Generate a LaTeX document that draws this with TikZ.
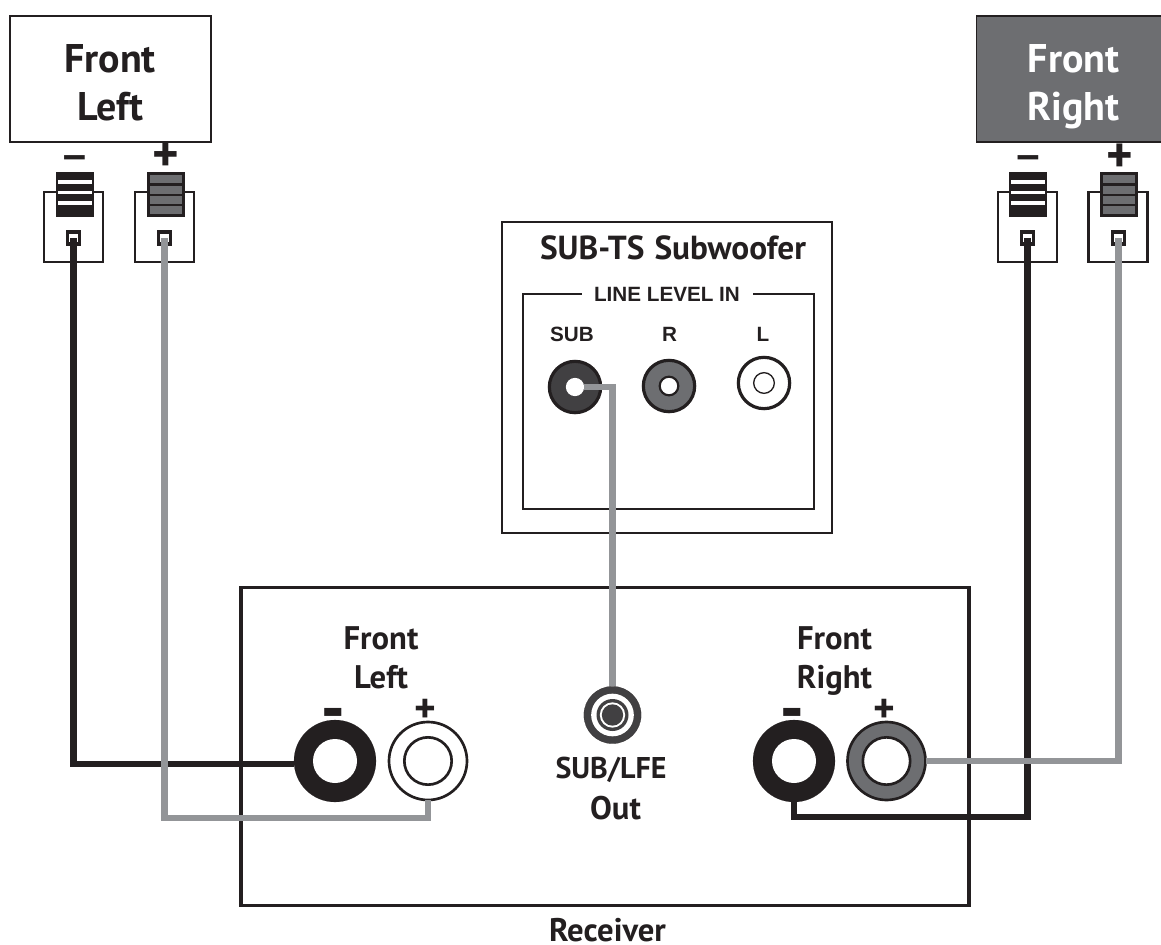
\documentclass[tikz,border=0pt]{standalone}
\usepackage{fontspec}
\setmainfont{PT Sans}
\newfontfamily\arialf{Liberation Sans}
\definecolor{ink}{HTML}{231F20}
\definecolor{midgray}{HTML}{6D6E71}
\definecolor{darkgray}{HTML}{414042}
\definecolor{wiregray}{HTML}{939598}
\tikzset{
  x=.75pt,y=-.75pt,
  boxline/.style={draw=ink,line width=1.5pt,inner sep=0,outer sep=0},
  label/.style={inner sep=0,outer sep=0,text=ink,font=\bfseries\fontsize{24.5pt}{26pt}\selectfont,anchor=base},
  smalllabel/.style={label,font=\bfseries\fontsize{22.5pt}{26pt}\selectfont},
  biglabel/.style={label,font=\bfseries\fontsize{30pt}{32pt}\selectfont},
  ariallabel/.style={inner sep=0,outer sep=0,text=ink,anchor=base,font=\arialf\bfseries\fontsize{15.5pt}{17pt}\selectfont},
  topminus/.style={inner sep=0,outer sep=0,text=ink,font=\bfseries\fontsize{35pt}{35pt}\selectfont,yscale=.8,transform shape},
  topplus/.style={inner sep=0,outer sep=0,text=ink,font=\bfseries\fontsize{38pt}{38pt}\selectfont},
  rcaminus/.style={inner sep=0,outer sep=0,text=ink,font=\bfseries\fontsize{29pt}{30pt}\selectfont,yscale=1.8,transform shape},
  rcaplus/.style={inner sep=0,outer sep=0,text=ink,font=\bfseries\fontsize{31pt}{30pt}\selectfont},
  post/.style={circle,draw=ink,inner sep=0,outer sep=0},
  disc/.style={circle,inner sep=0,outer sep=0},
  blackwire/.style={draw=ink,line width=4.6pt},
  graywire/.style={draw=wiregray,line width=4.6pt},
  spk/.style={draw=ink,line width=2.2pt,fill=white,inner sep=0,outer sep=0,minimum width=44.25pt,minimum height=52.5pt},
  hole/.style={draw=ink,line width=2.4pt,fill=white,inner sep=0,outer sep=0,minimum size=9pt},
}
\newcommand{\plugblack}[1]{%
  \fill[ink] (#1-19,172) rectangle (#1+19,217);
  \foreach \yy in {182,192.5,203} \fill[white] (#1-17,\yy-1.8) rectangle (#1+17,\yy+1.8);
}
\newcommand{\pluggray}[1]{%
  \fill[ink] (#1-19,172) rectangle (#1+19,217);
  \foreach \yy in {175.5,186,196.5,206.5} \fill[midgray] (#1-16,\yy) rectangle (#1+16,\yy+8);
}
\begin{document}
\begin{tikzpicture}
\useasboundingbox (0,0) rectangle (1161,945);
% speaker boxes
\node[boxline,fill=white,minimum width=150.5pt,minimum height=94.5pt] (fl) at (110.5,79) {};
\node[boxline,line width=1.2pt,fill=midgray,minimum width=139pt,minimum height=94.5pt] (fr) at (1069,79) {};
\node[biglabel] (flA) at (110,73) {Front};
\node[biglabel] (flB) at (110,121) {Left};
\node[biglabel,text=white] (frA) at (1073.5,73) {Front};
\node[biglabel,text=white] (frB) at (1073.5,121) {Right};
% speaker terminals
\foreach \nm/\cx in {a/73.5,b/164.5,c/1027.5,d/1118}
  \node[spk] (spk\nm) at (\cx,227) {};
\plugblack{74.5}\pluggray{165.5}\plugblack{1028}\pluggray{1119}
\node[hole] (ha) at (73.5,238) {};
\node[hole] (hb) at (164.5,238) {};
\node[hole] (hc) at (1027.5,238) {};
\node[hole] (hd) at (1118.5,238) {};
\node[topminus] (ma) at (74.5,162) {–};
\node[topplus] (pa) at (166,157) {+};
\node[topminus] (mc) at (1028,162) {–};
\node[topplus] (pc) at (1119.5,158) {+};
% subwoofer panel
\node[boxline,line width=1.3pt,minimum width=247.5pt,minimum height=233pt] (subbox) at (667,377.5) {};
\node[boxline,line width=1.9pt,minimum width=218pt,minimum height=161.5pt] (inner) at (668.5,401.5) {};
\fill[white] (582,285) rectangle (753,303);
\node[smalllabel,font=\bfseries\fontsize{25pt}{26pt}\selectfont] (subt) at (673,260) {SUB-TS\hspace{.3em}Subwoofer};
\node[ariallabel] (lli) at (667,301) {LINE LEVEL IN};
\node[ariallabel] (ls) at (572,341) {SUB};
\node[ariallabel] (lr) at (669.5,341) {R};
\node[ariallabel] (ll) at (763,341) {L};
\node[post,line width=2.4pt,fill=darkgray,minimum size=38.5pt] (jsub) at (575,387) {};
\node[disc,fill=white,minimum size=13.7pt] (jsubh) at (575,387) {};
\node[post,line width=2.4pt,fill=midgray,minimum size=38.5pt] (jr) at (669,386) {};
\node[post,line width=1.6pt,fill=white,minimum size=14pt] (jrh) at (669,386) {};
\node[post,line width=2.4pt,fill=white,minimum size=38.5pt] (jl) at (764,383) {};
\node[post,line width=1pt,fill=white,minimum size=15.5pt] (jlh) at (764,383) {};
% receiver
\node[boxline,line width=2.4pt,minimum width=546pt,minimum height=239pt] (rcv) at (605,746.5) {};
\node[label] (rlA) at (381,649) {Front};
\node[label] (rlB) at (381,688) {Left};
\node[label] (rrA) at (834.5,649) {Front};
\node[label] (rrB) at (834.5,688) {Right};
\node[smalllabel] (so1) at (611,778) {SUB/LFE};
\node[label] (so2) at (615.5,819) {Out};
\node[label] (rcvt) at (607.5,941) {Receiver};
% binding posts
\node[post,line width=.1pt,fill=ink,minimum size=61.5pt] (flm) at (335,761) {};
\node[post,line width=2pt,fill=white,minimum size=58.5pt] (flp) at (428,761) {};
\node[post,line width=2pt,fill=white,minimum size=35.5pt] (flph) at (428,761) {};
\node[post,line width=.1pt,fill=ink,minimum size=61.5pt] (frm) at (794,761) {};
\node[post,line width=2pt,fill=midgray,minimum size=58.5pt] (frp) at (886.5,761) {};
\node[post,line width=2pt,fill=white,minimum size=35.5pt] (frph) at (886.5,761) {};
\node[disc,fill=white,minimum size=33pt] (flmh) at (335,761) {};
\node[disc,fill=white,minimum size=33pt] (frmh) at (794,761) {};
\node[post,line width=.1pt,fill=darkgray,minimum size=43pt] (out) at (612.5,715) {};
\node[disc,fill=white,minimum size=32pt] (outa) at (612.5,715) {};
\node[disc,fill=darkgray,minimum size=24pt] (outb) at (612.5,715) {};
\node[disc,fill=white,minimum size=19pt] (outd) at (612.5,715) {};
\node[disc,fill=darkgray,minimum size=16pt] (outc) at (612.5,715) {};
\node[rcaminus] (rm1) at (333.5,720) {–};
\node[rcaplus] (rp1) at (425.5,711) {+};
\node[rcaminus] (rm2) at (792.5,720) {–};
\node[rcaplus] (rp2) at (884,711) {+};
% wires
\draw[blackwire] (ha.center) -- (ha.center |- 0,764) -- (flm.west |- 0,764);
\draw[graywire] (hb.center) -- ++(0,580) -| (flp.south);
\draw[blackwire] (frm.south) -- ++(0,15) -| (hc.center);
\draw[graywire] (frp.east) -| (hd.center);
\draw[graywire] (jsubh.east) -| (out.north);
\end{tikzpicture}
\end{document}
